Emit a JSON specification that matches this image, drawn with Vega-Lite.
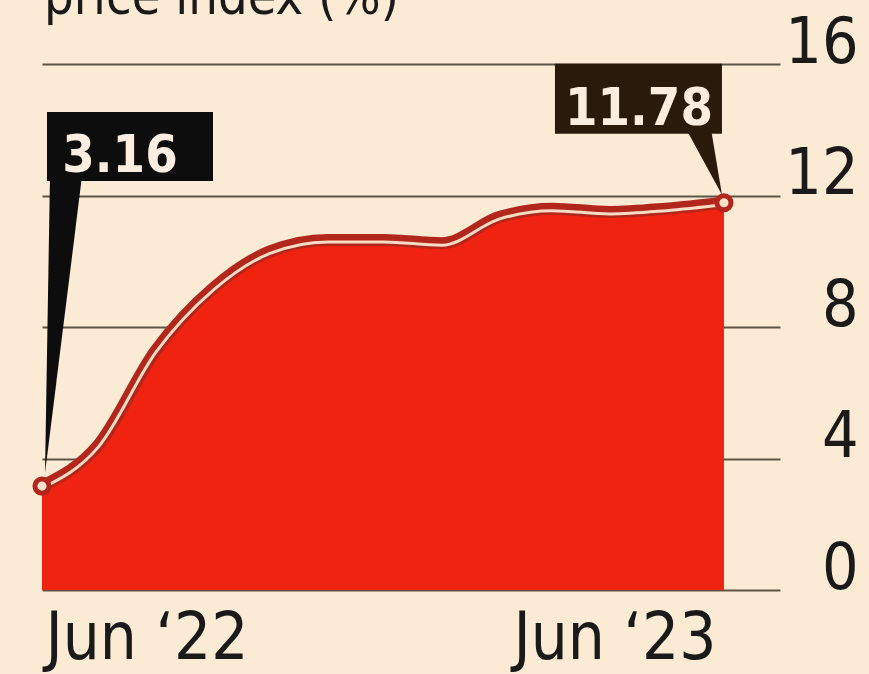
{
  "$schema": "https://vega.github.io/schema/vega-lite/v6.json",
  "width": 738,
  "height": 526,
  "autosize": {"type": "none"},
  "padding": {"left": 42, "top": 64, "right": 89, "bottom": 84},
  "background": "#fbead4",
  "config": {"view": {"stroke": null}, "font": "DejaVu Sans Condensed"},
  "data": {
    "values": [
      {"date": "2022-06-01", "value": 3.16},
      {"date": "2022-07-01", "value": 4.4},
      {"date": "2022-08-01", "value": 7.3},
      {"date": "2022-09-01", "value": 9.2},
      {"date": "2022-10-01", "value": 10.3},
      {"date": "2022-11-01", "value": 10.65},
      {"date": "2022-12-01", "value": 10.65},
      {"date": "2023-01-01", "value": 10.55},
      {"date": "2023-02-01", "value": 11.35},
      {"date": "2023-03-01", "value": 11.6},
      {"date": "2023-04-01", "value": 11.5},
      {"date": "2023-05-01", "value": 11.6},
      {"date": "2023-06-01", "value": 11.78}
    ]
  },
  "encoding": {
    "x": {
      "field": "date",
      "type": "temporal",
      "scale": {
        "type": "utc",
        "domain": [
          {"year": 2022, "month": 6, "date": 1, "utc": true},
          {"year": 2023, "month": 7, "date": 1, "utc": true}
        ]
      },
      "axis": {
        "values": [
          {"year": 2022, "month": 6, "date": 1, "utc": true},
          {"year": 2023, "month": 6, "date": 1, "utc": true}
        ],
        "labelExpr": "'Jun \u2018' + utcFormat(datum.value, '%y')",
        "domain": false,
        "ticks": false,
        "tickSize": 0,
        "grid": false,
        "title": null,
        "labelFlush": false,
        "labelLimit": 0,
        "labelFont": "DejaVu Sans Condensed",
        "labelFontSize": 65,
        "labelColor": "#1a1a1a",
        "labelBaseline": "alphabetic",
        "labelPadding": 68,
        "labelAlign": {"condition": {"test": "utcyear(datum.value) == 2023", "value": "right"}, "value": "left"},
        "labelOffset": {"condition": {"test": "utcyear(datum.value) == 2023", "value": -8}, "value": 3}
      }
    },
    "y": {
      "field": "value",
      "type": "quantitative",
      "scale": {"domain": [0, 16], "nice": false},
      "axis": {
        "orient": "right",
        "values": [0, 4, 8, 12, 16],
        "grid": true,
        "gridColor": "#5e5444",
        "gridWidth": 2,
        "domain": false,
        "ticks": false,
        "tickSize": 0,
        "labelPadding": 78,
        "labelAlign": "right",
        "labelBaseline": "alphabetic",
        "labelFlush": false,
        "labelLimit": 0,
        "labelFont": "DejaVu Sans Condensed",
        "labelFontSize": 64,
        "labelColor": "#1a1a1a",
        "labelOffset": -2,
        "title": null
      }
    }
  },
  "layer": [
    {"mark": {"type": "area", "color": "#ef230f", "interpolate": "monotone", "opacity": 1}},
    {"mark": {"type": "line", "color": "#b3261c", "strokeWidth": 12, "interpolate": "monotone", "strokeCap": "round"}},
    {"mark": {"type": "line", "color": "#f6dcc4", "strokeWidth": 3, "interpolate": "monotone", "yOffset": 2}},
    {
      "transform": [{"filter": "datum.value == 3.16 || datum.value == 11.78"}],
      "mark": {"type": "point", "shape": "circle", "size": 200, "filled": true, "fill": "#f8e4cc", "stroke": "#b3261c", "strokeWidth": 5, "opacity": 1, "fillOpacity": 1}
    },
    {
      "transform": [{"filter": "datum.value == 3.16"}],
      "mark": {"type": "point", "shape": "M3,-13 L8,-310 L40,-310 Z", "size": 4, "filled": true, "color": "#0d0d0d", "opacity": 1, "strokeWidth": 0}
    },
    {
      "transform": [{"filter": "datum.value == 11.78"}],
      "mark": {"type": "point", "shape": "M-2,-8 L-38,-74 L-13,-74 Z", "size": 4, "filled": true, "color": "#2a1a0c", "opacity": 1, "strokeWidth": 0}
    },
    {
      "transform": [{"filter": "datum.value == 3.16"}],
      "mark": {"type": "rect", "color": "#0d0d0d", "xOffset": 5, "x2Offset": 171, "yOffset": -374, "y2Offset": -305},
      "encoding": {"x2": {"field": "date"}, "y2": {"field": "value"}}
    },
    {
      "transform": [{"filter": "datum.value == 11.78"}],
      "mark": {"type": "rect", "color": "#2a1a0c", "xOffset": -169, "x2Offset": -2, "yOffset": -139, "y2Offset": -69},
      "encoding": {"x2": {"field": "date"}, "y2": {"field": "value"}}
    },
    {
      "transform": [{"filter": "datum.value == 3.16"}],
      "mark": {"type": "text", "color": "#fbeee0", "font": "DejaVu Sans Condensed", "fontWeight": "bold", "fontSize": 52, "align": "center", "baseline": "alphabetic", "dx": 78, "dy": -314},
      "encoding": {"text": {"field": "value", "type": "quantitative", "format": ".2f"}}
    },
    {
      "transform": [{"filter": "datum.value == 11.78"}],
      "mark": {"type": "text", "color": "#fbeee0", "font": "DejaVu Sans Condensed", "fontWeight": "bold", "fontSize": 52, "align": "center", "baseline": "alphabetic", "dx": -85, "dy": -78},
      "encoding": {"text": {"field": "value", "type": "quantitative", "format": ".2f"}}
    },
    {
      "transform": [{"filter": "datum.value == 3.16"}],
      "mark": {"type": "text", "color": "#1a1a1a", "font": "DejaVu Sans Condensed", "fontSize": 52, "align": "left", "baseline": "alphabetic", "dx": 2, "yOffset": -50},
      "encoding": {
        "y": {"datum": 16, "type": "quantitative"},
        "text": {"value": "price index (%)"}
      }
    }
  ]
}
